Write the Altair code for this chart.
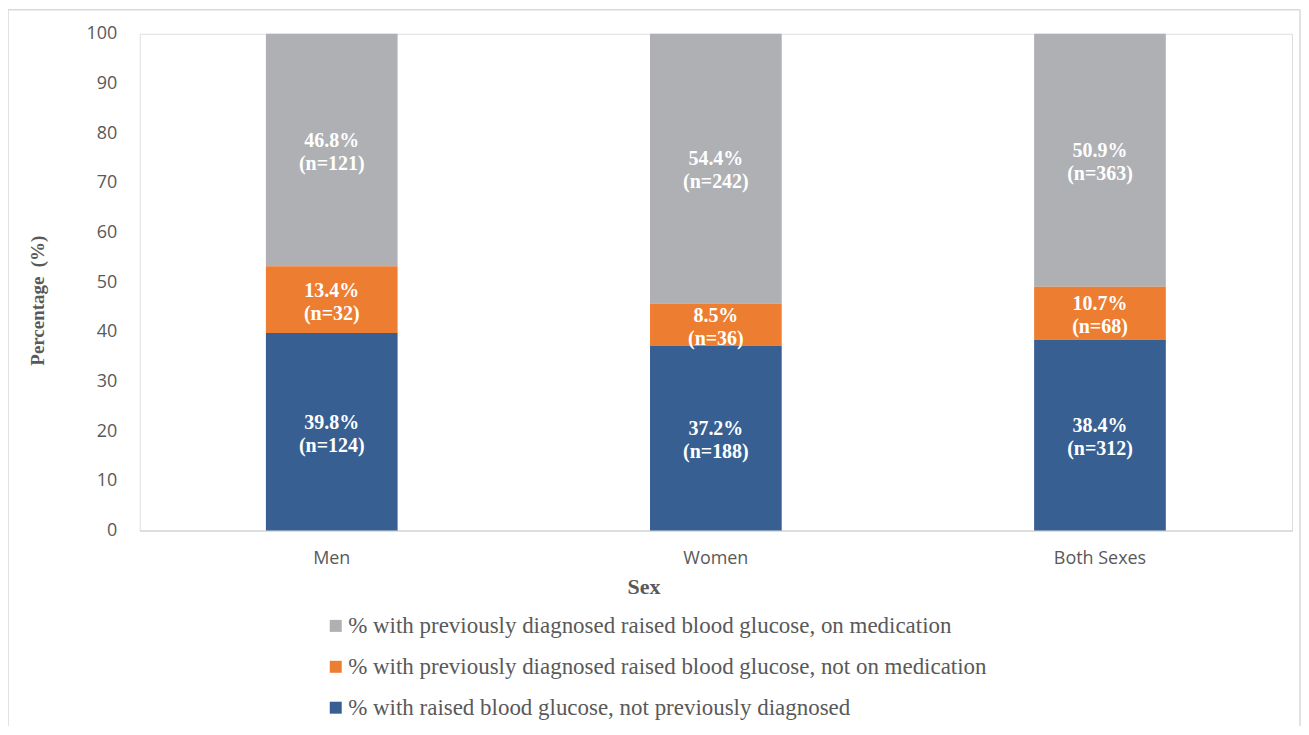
import altair as alt
import pandas as pd

sexes = ["Men", "Women", "Both Sexes"]
series = [
    "% with previously diagnosed raised blood glucose, on medication",
    "% with previously diagnosed raised blood glucose, not on medication",
    "% with raised blood glucose, not previously diagnosed",
]
colors = ["#AFB0B3", "#ED7D31", "#375F92"]
stack_order = [3, 2, 1]

on_med_pct = [46.8, 54.4, 50.9]
on_med_n = [121, 242, 363]
not_med_pct = [13.4, 8.5, 10.7]
not_med_n = [32, 36, 68]
undiag_pct = [39.8, 37.2, 38.4]
undiag_n = [124, 188, 312]

y_ticks = [0, 10, 20, 30, 40, 50, 60, 70, 80, 90, 100]

rows = []
for s_idx, (pcts, ns) in enumerate([(on_med_pct, on_med_n), (not_med_pct, not_med_n), (undiag_pct, undiag_n)]):
    for i, sex in enumerate(sexes):
        rows.append({
            "sex": sex,
            "series": series[s_idx],
            "order": stack_order[s_idx],
            "value": pcts[i],
            "label": f"{pcts[i]}%\n(n={ns[i]})",
        })
df = pd.DataFrame(rows)

GRAY_TXT = "#595959"
SERIF = "Liberation Serif"
SANS = "Open Sans"

x_enc = alt.X(
    "sex:N",
    sort=sexes,
    scale=alt.Scale(paddingInner=0, paddingOuter=0),
    axis=alt.Axis(
        title="Sex",
        labelAngle=0,
        labelFont=SANS,
        labelFontSize=18,
        labelColor=GRAY_TXT,
        labelPadding=19,
        ticks=False,
        tickSize=0,
        domainColor="#D9D9D9",
        domainWidth=1.5,
        titleFont=SERIF,
        titleFontWeight="bold",
        titleFontSize=22,
        titleColor=GRAY_TXT,
        titleX=505,
        titleY=56,
        titleAlign="center",
        titleBaseline="middle",
    ),
)

y_scale = alt.Scale(domain=[0, 100], clamp=True, nice=False)

bars = alt.Chart(df).mark_bar(size=132).encode(
    x=x_enc,
    y=alt.Y(
        "sum(value):Q",
        stack="zero",
        scale=y_scale,
        axis=alt.Axis(
            title="Percentage\u00a0\u00a0(%)",
            values=y_ticks,
            grid=False,
            domain=False,
            ticks=False,
            tickSize=0,
            labelFont=SANS,
            labelFontSize=18,
            labelColor=GRAY_TXT,
            labelPadding=23,
            titleFont=SERIF,
            titleFontWeight="bold",
            titleFontSize=19,
            titleColor=GRAY_TXT,
            titleX=-102,
            titleY=267,
            titleAngle=-90,
            titleAlign="center",
            titleBaseline="middle",
        ),
    ),
    color=alt.Color(
        "series:N",
        scale=alt.Scale(domain=series, range=colors),
        legend=alt.Legend(
            title=None,
            orient="none",
            legendX=185,
            legendY=582,
            direction="vertical",
            symbolType="square",
            symbolSize=144,
            symbolStrokeWidth=0,
            labelFont=SERIF,
            labelFontSize=23,
            labelColor=GRAY_TXT,
            labelOffset=1,
            labelLimit=900,
            rowPadding=17,
            padding=0,
        ),
    ),
    order=alt.Order("order:Q", sort="ascending"),
)

labels = alt.Chart(df).transform_stack(
    stack="value",
    groupby=["sex"],
    as_=["y0", "y1"],
    sort=[alt.SortField("order", order="ascending")],
).transform_calculate(
    mid="(datum.y0 + datum.y1) / 2"
).mark_text(
    font=SERIF,
    fontWeight="bold",
    fontSize=20,
    color="white",
    lineBreak="\n",
    lineHeight=23,
    baseline="middle",
    align="center",
    dy=-9,
).encode(
    x=alt.X("sex:N", sort=sexes),
    y=alt.Y("mid:Q", scale=y_scale),
    text="label:N",
)

border = alt.Chart(pd.DataFrame({"k": [0]})).mark_rule(color="#D9D9D9", strokeWidth=1.5).encode(
    x=alt.value(-132), x2=alt.value(1163), y=alt.value(-24), y2=alt.value(-24)
)
border_l = alt.Chart(pd.DataFrame({"k": [0]})).mark_rule(color="#D9D9D9", strokeWidth=1.5).encode(
    x=alt.value(-132), y=alt.value(-24), y2=alt.value(720)
)
border_r = alt.Chart(pd.DataFrame({"k": [0]})).mark_rule(color="#D9D9D9", strokeWidth=1.5).encode(
    x=alt.value(1163), y=alt.value(-24), y2=alt.value(720)
)

chart = alt.layer(bars, labels, border, border_l, border_r).properties(
    width=1155,
    height=498,
    autosize=alt.AutoSizeParams(type="none"),
    padding={"left": 132, "top": 25, "right": 9, "bottom": 195},
).configure_view(stroke=None).configure(background="white")

chart.save("out.html", embed_options={"renderer": "svg", "actions": False})
